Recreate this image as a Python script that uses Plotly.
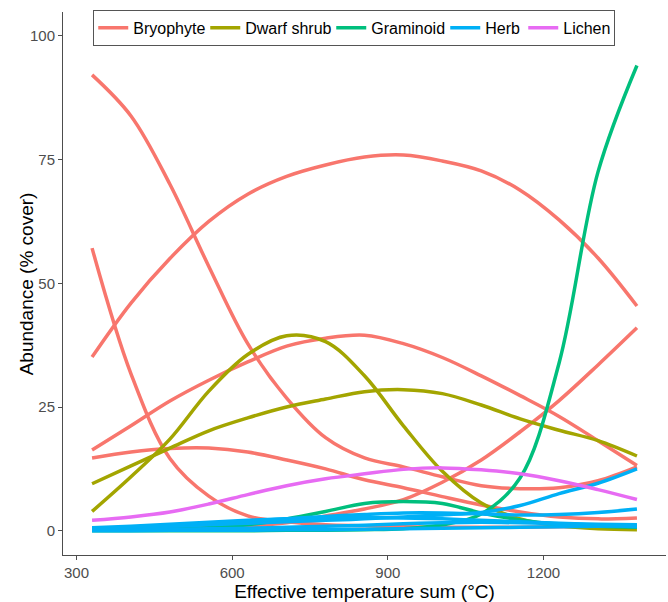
import plotly.graph_objects as go

# effective temperature sum (°C) at which the fitted curves are read
TEMP_SUM = [330, 405, 480, 555, 630, 705, 780, 855, 930, 1005, 1080, 1155, 1230, 1305, 1380]

# fitted abundance (% cover) per species, grouped by functional type
BRYOPHYTE = [
    [92.1, 83.8, 70.0, 53.4, 37.8, 26.8, 18.8, 14.7, 12.9, 10.9, 9.1, 8.5, 8.7, 10.1, 12.9],
    [57.1, 31.7, 14.6, 7.0, 3.0, 1.8, 1.2, 1.0, 0.8, 0.7, 0.7, 0.7, 0.8, 0.8, 0.9],
    [35.1, 46.0, 55.0, 62.5, 68.0, 71.6, 73.9, 75.5, 75.9, 74.7, 72.7, 68.8, 62.8, 55.1, 45.4],
    [16.3, 21.2, 26.2, 30.4, 34.1, 37.3, 38.9, 39.5, 37.8, 35.0, 31.3, 27.3, 23.1, 18.2, 13.2],
    [0.3, 0.3, 0.4, 0.6, 0.9, 1.6, 3.0, 4.4, 6.3, 9.8, 14.3, 20.0, 26.3, 33.5, 41.0],
    [14.7, 15.9, 16.6, 16.7, 15.9, 14.3, 12.5, 10.3, 8.7, 6.9, 5.2, 3.8, 2.8, 2.4, 2.6],
]
DWARF_SHRUB = [
    [3.9, 10.9, 18.5, 28.2, 35.6, 39.4, 38.2, 31.3, 21.2, 12.0, 5.6, 2.4, 1.0, 0.4, 0.2],
    [9.5, 13.1, 16.7, 20.2, 22.8, 25.0, 26.6, 28.1, 28.5, 27.7, 25.4, 22.6, 20.3, 18.2, 15.1],
]
GRAMINOID = [
    [0.0, 0.0, 0.0, 0.0, 0.0, 0.1, 0.1, 0.2, 0.4, 1.2, 3.4, 10.7, 33.9, 72.5, 94.0],
    [0.1, 0.15, 0.3, 0.6, 1.2, 2.4, 3.9, 5.5, 5.9, 5.5, 3.6, 2.2, 1.3, 0.9, 0.7],
]
HERB = [
    [0.4, 0.6, 0.9, 1.2, 1.5, 1.8, 2.1, 2.4, 2.8, 3.2, 3.7, 5.1, 7.5, 9.6, 12.5],
    [0.2, 0.5, 0.9, 1.4, 1.9, 2.4, 2.9, 3.3, 3.6, 3.6, 3.4, 3.2, 3.3, 3.7, 4.4],
    [0.6, 0.9, 1.3, 1.7, 2.1, 2.4, 2.6, 2.7, 2.6, 2.4, 2.1, 1.8, 1.5, 1.3, 1.2],
    [0.2, 0.2, 0.3, 0.4, 0.5, 0.7, 0.9, 1.1, 1.4, 1.6, 1.7, 1.6, 1.4, 1.1, 0.8],
    [0.0, 0.0, 0.1, 0.1, 0.1, 0.2, 0.2, 0.3, 0.4, 0.5, 0.6, 0.7, 0.8, 0.9, 1.0],
]
LICHEN = [
    [2.1, 2.8, 3.8, 5.4, 7.3, 9.1, 10.5, 11.5, 12.4, 12.7, 12.3, 11.5, 10.1, 8.3, 6.3],
]

GROUPS = [
    ("Bryophyte", "#F8766D", BRYOPHYTE),
    ("Dwarf shrub", "#A3A500", DWARF_SHRUB),
    ("Graminoid", "#00BF7D", GRAMINOID),
    ("Herb", "#00B0F6", HERB),
    ("Lichen", "#E76BF3", LICHEN),
]
# legend entry widths (px), a bit tighter than plotly's default spacing
LEGEND_W = {"Bryophyte": 67, "Dwarf shrub": 81, "Graminoid": 69, "Herb": 33, "Lichen": 46}

fig = go.Figure()

for name, color, curves in GROUPS:
    for i, ys in enumerate(curves):
        fig.add_trace(go.Scatter(
            x=TEMP_SUM, y=ys, mode="lines", name=name,
            legendgroup=name, showlegend=(i == 0), legendwidth=LEGEND_W[name],
            line=dict(color=color, width=3.5, shape="spline", smoothing=1),
            hoverinfo="skip",
        ))

axis_col = "#4D4D4D"

fig.update_layout(
    width=668, height=602,
    margin=dict(l=63, r=2, t=12, b=47),
    paper_bgcolor="white", plot_bgcolor="white",
    font=dict(family="Liberation Sans, Arial, sans-serif", color="black"),
    legend=dict(
        orientation="h", x=0.483, y=1.004, xanchor="center", yanchor="top",
        bordercolor="#555555", borderwidth=1, bgcolor="white",
        font=dict(size=16, color="black"),
        itemwidth=30, tracegroupgap=0,
    ),
    # y title as annotation so it can sit closer to the tick labels
    annotations=[dict(
        text="Abundance (% cover)", textangle=-90,
        xref="paper", yref="paper", x=-0.06, y=0.5,
        xanchor="center", yanchor="middle", showarrow=False,
        font=dict(size=19, color="black"),
    )],
)

fig.update_xaxes(
    range=[274, 1436], tickvals=[300, 600, 900, 1200],
    showgrid=False, zeroline=False,
    showline=True, linecolor=axis_col, linewidth=1,
    ticks="outside", ticklen=4, tickcolor=axis_col,
    tickfont=dict(size=15, color=axis_col),
    title=dict(text="Effective temperature sum (°C)", font=dict(size=19, color="black"), standoff=8),
    automargin=False,
)
fig.update_yaxes(
    range=[-4.9, 104.8], tickvals=[0, 25, 50, 75, 100],
    showgrid=False, zeroline=False,
    showline=True, linecolor=axis_col, linewidth=1,
    ticks="outside", ticklen=4, tickcolor=axis_col,
    tickfont=dict(size=15, color=axis_col),
    automargin=False,
)

# drop the browser's default page margin so the figure sits at the window's corner
fig.write_html("out.html", config={"displayModeBar": False},
               post_script="document.body.style.margin='0';")
